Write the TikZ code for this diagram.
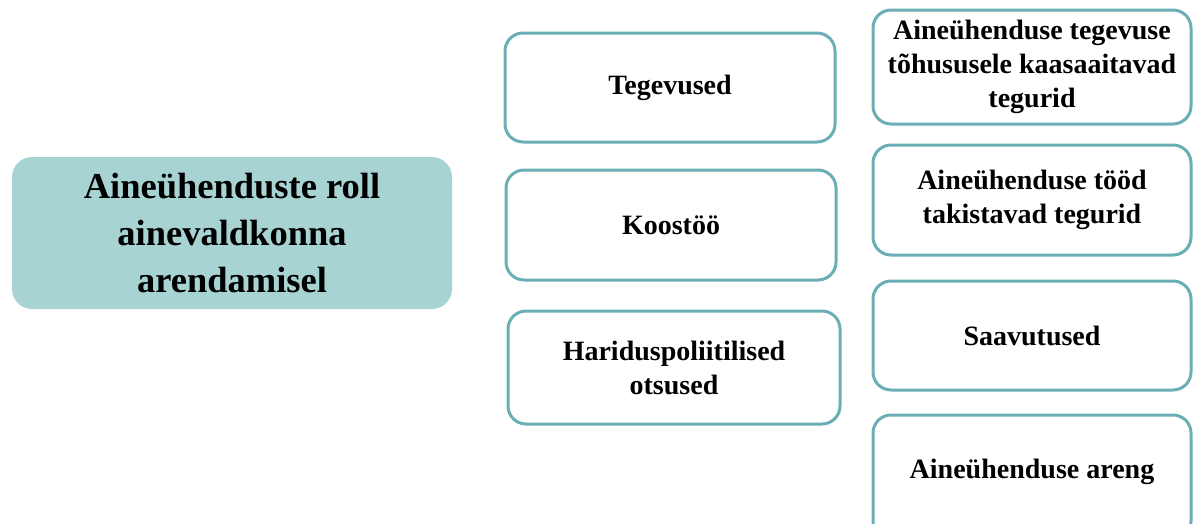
\documentclass[tikz,border=0pt]{standalone}
\usepackage{fontspec}
\setmainfont{Liberation Serif}
\definecolor{tealline}{HTML}{6AAFB5}
\definecolor{tealfill}{HTML}{A7D3D3}

\begin{document}
\begin{tikzpicture}[x=1pt, y=-1pt,
		every node/.style={font=\bfseries\fontsize{28}{34}\selectfont, align=center, inner sep=0pt},
		mainbox/.style={fill=tealfill, rounded corners=20pt, minimum width=440pt, minimum height=152pt,
			font=\bfseries\fontsize{36.5}{47}\selectfont},
		itembox/.style={draw=tealline, line width=3pt, rounded corners=18pt, fill=white}]
		\useasboundingbox (0,0) rectangle (1193,523);
		\clip (0,0) rectangle (1193,523);
		\node[mainbox] (roll) at (232,233) {Aineühenduste roll\\ainevaldkonna\\arendamisel};
		% keskmine tulp
		\node[itembox, minimum width=330pt, minimum height=109pt] (teg) at (670,87.5) {Tegevused};
		\node[itembox, minimum width=330pt, minimum height=110pt] (koos) at (671,225) {Koostöö};
		\node[itembox, minimum width=332pt, minimum height=113pt] (hpol) at (674,367.5) {Hariduspoliitilised\\otsused};
		% parem tulp
		\node[itembox, minimum width=318pt, minimum height=114pt] (tohus) at (1032,67) {Aineühenduse tegevuse\\tõhususele kaasaaitavad\\tegurid};
		\node[itembox, minimum width=318pt, minimum height=110pt] (takist) at (1032,200) {Aineühenduse tööd\\takistavad tegurid};
		\node[itembox, minimum width=318pt, minimum height=109pt] (saav) at (1032,335.5) {Saavutused};
		\node[itembox, minimum width=318pt, minimum height=124pt, text depth=16pt] (areng) at (1032,477) {Aineühenduse areng};
	\end{tikzpicture}
\end{document}
